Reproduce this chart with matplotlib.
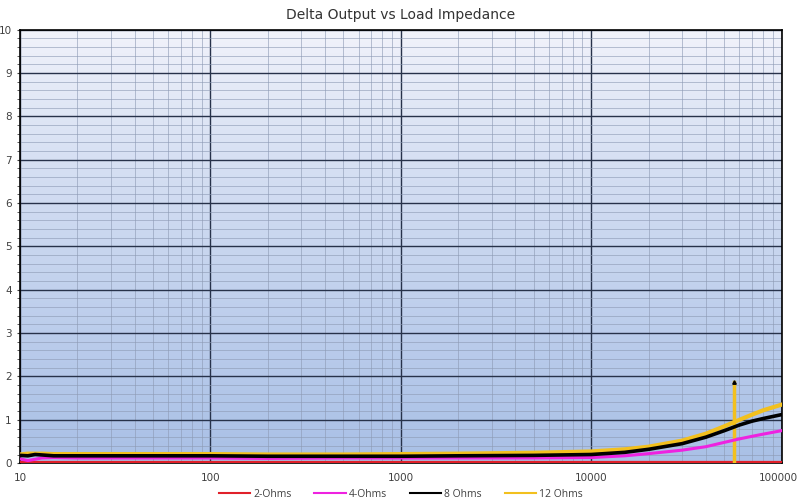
import matplotlib.pyplot as plt
import matplotlib.colors as mcolors
import matplotlib.transforms as mtransforms
import numpy as np

# frequency points (Hz) and delta output per load
freq = [10, 11, 12, 13, 15, 20, 30, 50, 100, 200, 500, 1000, 2000, 5000,
        10000, 15000, 20000, 30000, 40000, 50000, 60000, 70000, 80000, 100000]
ohm2 = [0.02, 0.02, 0.02, 0.02, 0.02, 0.02, 0.02, 0.02, 0.02, 0.02, 0.02, 0.02,
        0.02, 0.02, 0.02, 0.02, 0.02, 0.02, 0.02, 0.02, 0.02, 0.02, 0.02, 0.02]
ohm4 = [0.10, 0.06, 0.09, 0.12, 0.13, 0.12, 0.12, 0.12, 0.12, 0.11, 0.12, 0.12,
        0.12, 0.12, 0.13, 0.17, 0.22, 0.30, 0.38, 0.48, 0.56, 0.62, 0.67, 0.75]
ohm8 = [0.18, 0.17, 0.20, 0.19, 0.17, 0.17, 0.17, 0.17, 0.17, 0.16, 0.16, 0.16,
        0.17, 0.18, 0.20, 0.25, 0.32, 0.45, 0.60, 0.75, 0.88, 0.97, 1.03, 1.12]
ohm12 = [0.20, 0.22, 0.22, 0.22, 0.21, 0.21, 0.21, 0.21, 0.21, 0.20, 0.20, 0.21,
         0.22, 0.24, 0.27, 0.32, 0.38, 0.52, 0.68, 0.85, 1.00, 1.12, 1.22, 1.35]

# single spike in the 12 Ohms trace
spike_x = [56500, 56500]
spike_y = [0.0, 1.87]

fig = plt.figure(figsize=(8, 5.04), dpi=100)
ax = fig.add_axes([0.025, 0.081, 0.952, 0.86])
plt.rcParams['font.family'] = ['Open Sans', 'DejaVu Sans']

# gradient background, light lavender at top to blue at bottom
top = np.array(mcolors.to_rgb('#f3f4fb'))
bot = np.array(mcolors.to_rgb('#a9c0e6'))
t = np.linspace(0, 1, 256)[:, None] ** 0.8
grad = (top * (1 - t) + bot * t)[:, None, :]
grad = np.repeat(grad, 2, axis=1)
ax.imshow(grad, extent=[0, 1, 0, 1], transform=ax.transAxes, aspect='auto', zorder=0)

ax.set_xscale('log')
ax.set_xlim(10, 100000)
ax.set_ylim(0, 10)
ax.set_yticks(range(0, 11))
ax.set_yticks(np.arange(0, 10.01, 0.2), minor=True)
ax.grid(which='major', color='#27324a', linewidth=1.0, zorder=1)
ax.grid(which='minor', color='#8d9ab4', linewidth=0.6, alpha=0.7, zorder=1)
ax.set_axisbelow(True)

ax.plot(freq, ohm2, color='#e0202a', linewidth=1.6, label='2-Ohms', zorder=3)
ax.plot(freq, ohm4, color='#ee22e0', linewidth=2.2, label='4-Ohms', zorder=4)
ax.plot(freq, ohm8, color='black', linewidth=2.6, label='8 Ohms', zorder=5)
ax.plot(freq, ohm12, color='#f2c01e', linewidth=3.0, label='12 Ohms', zorder=3.5)
ax.plot(spike_x, spike_y, color='#f2c01e', linewidth=2.5, zorder=3.5)
ax.plot(spike_x[1], spike_y[1], marker='^', color='black', markersize=2.5, zorder=6)

ax.set_xticks([10, 100, 1000, 10000, 100000])
ax.set_xticklabels(['10', '100', '1000', '10000', '100000'])
ax.tick_params(axis='both', which='both', length=2, labelsize=7.5, colors='#404040')
ax.tick_params(axis='x', which='both', length=0, pad=7)
ax.tick_params(axis='y', pad=4)
last = ax.get_xticklabels()[-1]
last.set_horizontalalignment('right')
last.set_transform(last.get_transform() + mtransforms.ScaledTranslation(0.16, 0, fig.dpi_scale_trans))
for s in ax.spines.values():
    s.set_color('black')
    s.set_linewidth(1.2)

ax.set_title('Delta Output vs Load Impedance', fontsize=10, color='#333333', pad=8)
leg = ax.legend(loc='upper center', bbox_to_anchor=(0.5, -0.045), ncol=4, frameon=False,
                fontsize=7.5, handlelength=3.0, handletextpad=0.3, columnspacing=2.2,
                labelcolor='#404040', borderaxespad=0.2)
for h in leg.get_lines():
    h.set_linewidth(1.5)

fig.savefig('out.png', dpi=100)
